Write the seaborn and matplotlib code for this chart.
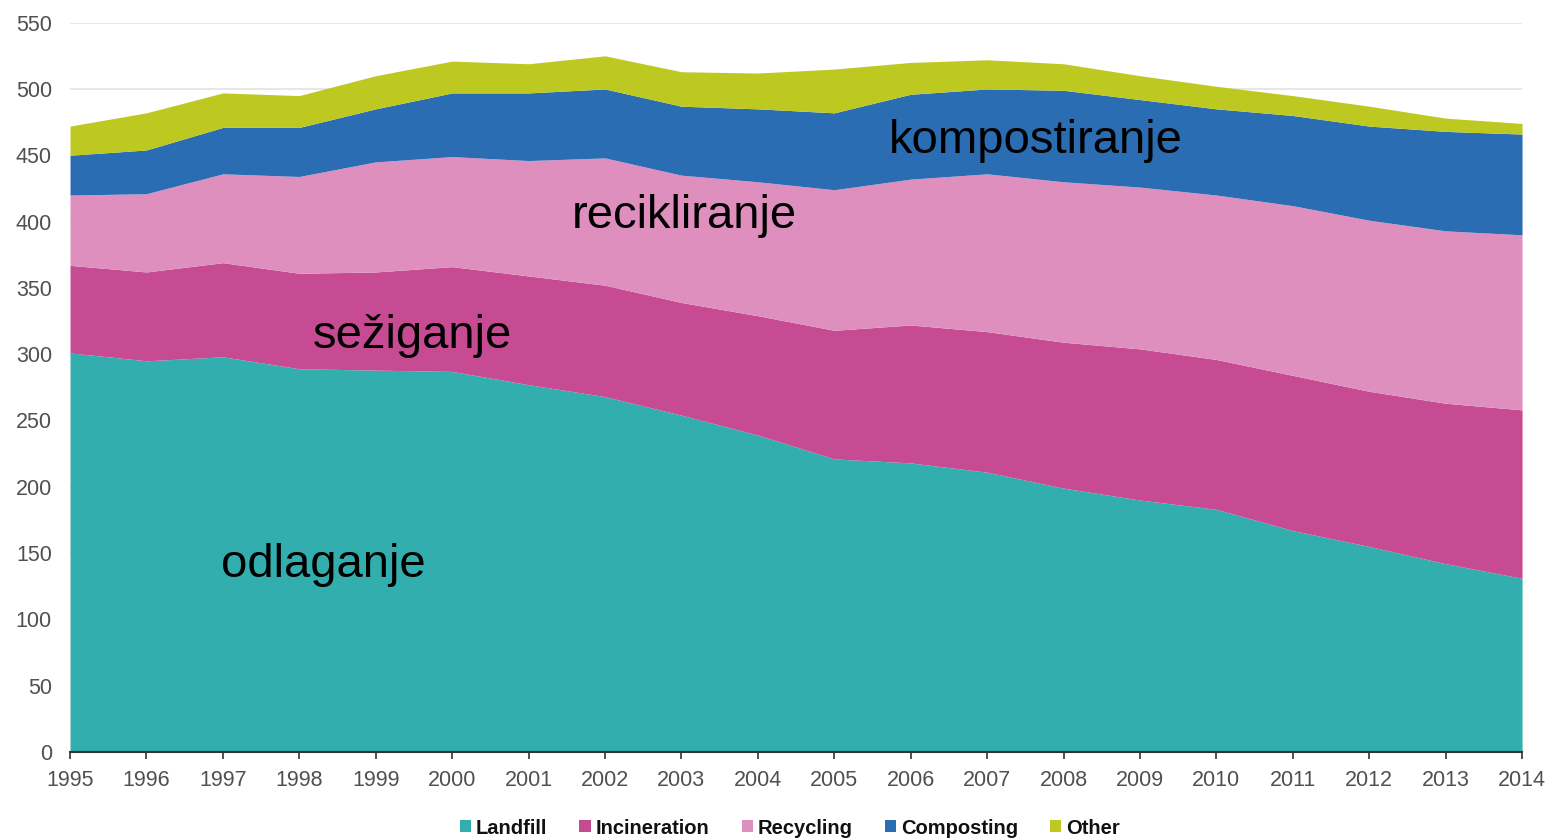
import matplotlib
matplotlib.use('Agg')
import matplotlib.pyplot as plt
import seaborn as sns
from matplotlib.patches import Patch

# municipal waste treatment, kg per capita
years = list(range(1995, 2015))
landfill = [301, 295, 298, 289, 288, 287, 277, 268, 254, 239, 221, 218, 211, 199, 190, 183, 167, 155, 142, 131]
incineration = [66, 67, 71, 72, 74, 79, 82, 84, 85, 90, 97, 104, 106, 110, 114, 113, 117, 117, 121, 127]
recycling = [53, 59, 67, 73, 83, 83, 87, 96, 96, 101, 106, 110, 119, 121, 122, 124, 128, 129, 130, 132]
composting = [30, 33, 35, 37, 40, 48, 51, 52, 52, 55, 58, 64, 64, 69, 66, 65, 68, 71, 75, 76]
other = [22, 28, 26, 24, 25, 24, 22, 25, 26, 27, 33, 24, 22, 20, 18, 17, 15, 15, 10, 8]

series_names = ['Landfill', 'Incineration', 'Recycling', 'Composting', 'Other']
colors = ['#33aeae', '#c74b93', '#de8fbe', '#2b6db3', '#bdc821']

# in-chart labels (Slovenian) and where they sit (year, value at baseline)
area_labels = ['odlaganje', 'sežiganje', 'recikliranje', 'kompostiranje']
label_x = [1996.98, 1998.18, 2001.56, 2005.71]
label_y = [132, 305, 395, 452]

sns.set_theme(style='white')
plt.rcParams['font.family'] = ['Liberation Sans', 'DejaVu Sans']

fig = plt.figure(figsize=(15.49, 8.39), dpi=100)
ax = fig.add_axes([0.0452, 0.1037, 0.9374, 0.8693])

ax.stackplot(years, landfill, incineration, recycling, composting, other,
             colors=sns.color_palette(colors), linewidth=0)

ax.set_xlim(1995, 2014)
ax.set_ylim(0, 550)
ax.set_xticks(years)
ax.set_yticks(range(0, 551, 50))
ax.yaxis.grid(True, color='#e3e3e3', linewidth=1.2)
ax.set_axisbelow(True)

for side in ['top', 'right', 'left']:
    ax.spines[side].set_visible(False)
ax.spines['bottom'].set_color('#333333')
ax.spines['bottom'].set_linewidth(1.5)

ax.tick_params(axis='x', bottom=True, length=5, width=1.2, color='#333333',
               labelsize=15.5, labelcolor='#505050', pad=8)
ax.tick_params(axis='y', left=False, length=0, labelsize=15.5, labelcolor='#505050', pad=13)

for txt, x, y in zip(area_labels, label_x, label_y):
    ax.text(x, y, txt, fontsize=34, color='black', ha='left', va='baseline')

handles = [Patch(facecolor=c, edgecolor='none') for c in colors]
fig.legend(handles, series_names, loc='center', bbox_to_anchor=(0.51, 1 - 828 / 839),
           ncol=5, frameon=False, prop={'weight': 'bold', 'size': 14.5},
           handlelength=0.55, handleheight=0.55, handletextpad=0.25, columnspacing=1.6,
           labelcolor='#111111')

fig.savefig('out.png', dpi=100)
